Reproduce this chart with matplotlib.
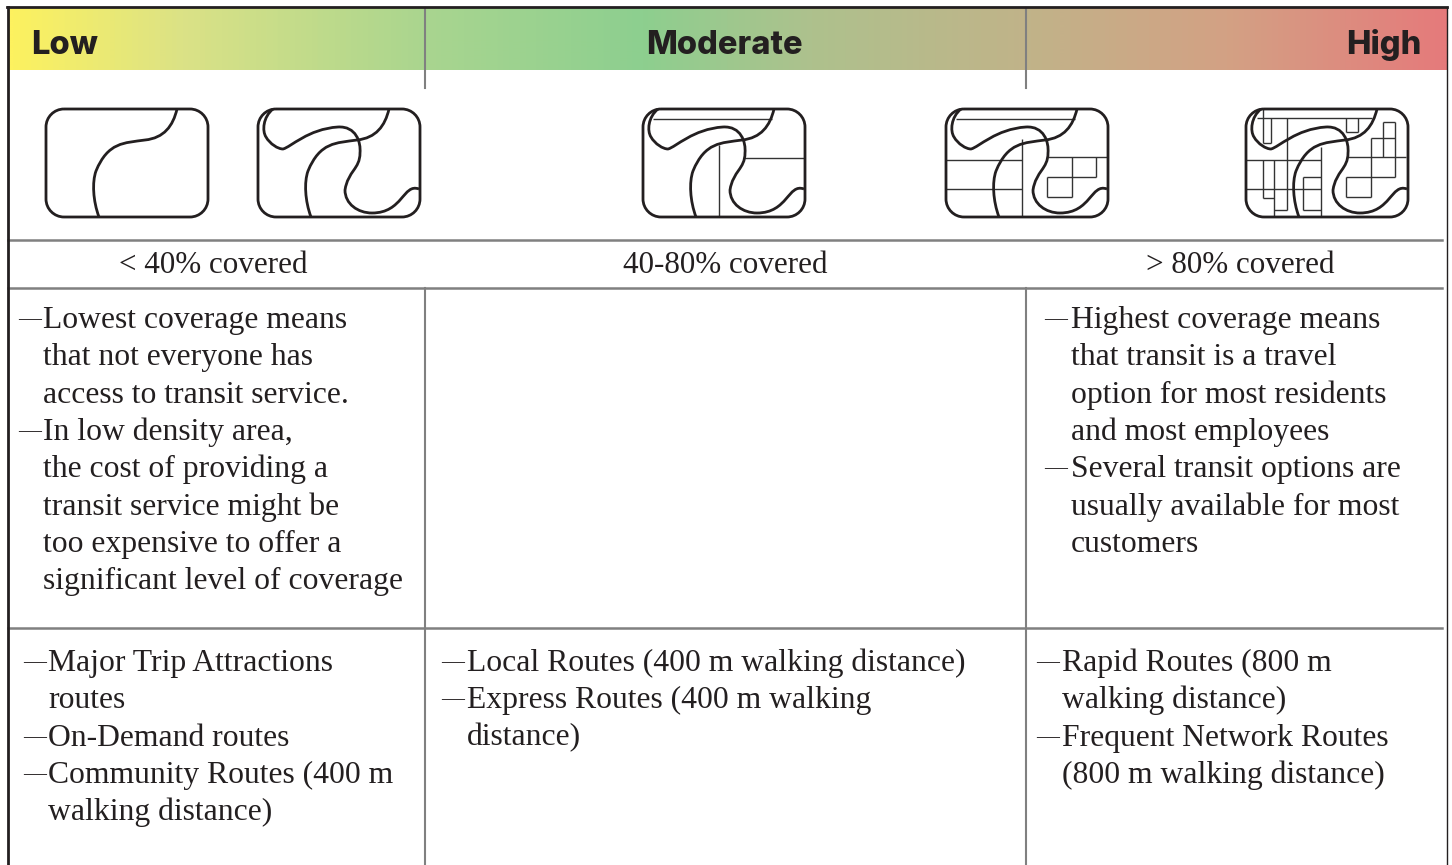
import numpy as np
import matplotlib
matplotlib.use("Agg")
import matplotlib.pyplot as plt
from matplotlib.colors import LinearSegmentedColormap
from matplotlib.patches import PathPatch
from matplotlib.path import Path

# Everything is laid out in image pixels
W, H = 1452, 865
SERIF = "Liberation Serif"
INK = "#231f20"
GREY = "#808080"
SIZE = 22.8

grad_stops = [(0.0, "#fdf25f"), (0.12, "#dbe286"), (0.29, "#a9d58f"), (0.44, "#8dcf8f"),
              (0.56, "#aec18d"), (0.71, "#c1b389"), (0.85, "#d3a184"), (1.0, "#e57a7b")]

levels = ["Low", "Moderate", "High"]
coverage = ["< 40% covered", "40-80% covered", "> 80% covered"]

# (text, starts with a dash)
low_notes = [("Lowest coverage means", True), ("that not everyone has", False),
             ("access to transit service.", False), ("In low density area,", True),
             ("the cost of providing a", False), ("transit service might be", False),
             ("too expensive to offer a", False), ("significant level of coverage", False)]
high_notes = [("Highest coverage means", True), ("that transit is a travel", False),
              ("option for most residents", False), ("and most employees", False),
              ("Several transit options are", True), ("usually available for most", False),
              ("customers", False)]
low_routes = [("Major Trip Attractions", True), ("routes", False), ("On-Demand routes", True),
              ("Community Routes (400 m", True), ("walking distance)", False)]
mod_routes = [("Local Routes (400 m walking distance)", True), ("Express Routes (400 m walking", True),
              ("distance)", False)]
high_routes = [("Rapid Routes (800 m", True), ("walking distance)", False),
               ("Frequent Network Routes", True), ("(800 m walking distance)", False)]

# Road curves, icon-relative pixels (start point, then bezier triples)
road_a = [(131, 0), (127, 17), (118, 29), (99, 31), (78, 34), (62, 33), (50, 62),
          (46, 73), (47, 92), (53, 108)]
road_b = [(15, 0), (5, 8), (4, 22), (8, 28), (12, 35), (20, 40), (25, 40),
          (33, 38), (50, 20), (80, 18), (98, 17), (103, 33), (102, 44),
          (102, 60), (90, 62), (87, 81), (87, 95), (100, 104), (114, 104),
          (145, 104), (145, 74), (161, 80)]

# Thin street segments per icon: (x0, y0, x1, y1)
streets_3 = [(10, 10, 129, 10), (76, 36, 76, 108), (101, 49, 162, 49)]
streets_4 = [(10, 10, 129, 10), (76, 30, 76, 108), (0, 51, 76, 51), (0, 80, 76, 80),
             (102, 48, 162, 48), (126, 48, 126, 88), (150, 48, 150, 68), (101, 68, 150, 68),
             (101, 68, 101, 88), (101, 88, 126, 88)]
streets_5 = [(11, 9, 126, 9), (17, 0, 17, 34), (25, 9, 25, 34), (17, 34, 25, 34), (41, 9, 41, 101),
             (100, 9, 100, 23), (112, 9, 112, 23), (100, 23, 112, 23),
             (137, 13, 149, 13), (137, 13, 137, 48), (149, 13, 149, 68), (125, 29, 149, 29),
             (125, 29, 125, 88), (101, 48, 160, 48), (100, 68, 149, 68), (100, 68, 100, 88),
             (100, 88, 125, 88), (0, 51, 75, 51), (0, 80, 75, 80), (75, 38, 75, 108),
             (17, 51, 17, 89), (17, 89, 28, 89), (28, 51, 28, 108), (28, 101, 41, 101),
             (57, 68, 57, 101), (57, 68, 75, 68), (57, 101, 75, 101)]

# icon left edge, second road?, streets
icons = [(46, False, []), (258, True, []), (643, True, streets_3),
         (946, True, streets_4), (1246, True, streets_5)]
ICON_TOP, ICON_W, ICON_H, ICON_R = 109, 162, 108, 18


def curve(points, x0, y0):
    pts = [(x + x0, y + y0) for x, y in points]
    return Path(pts, [Path.MOVETO] + [Path.CURVE4] * (len(pts) - 1))


def rounded_box(x0, y0, w, h, r):
    # straight sides joined by cubic quarter circles
    k = r * 0.448
    x1, y1 = x0 + w, y0 + h
    verts = [(x0 + r, y0), (x1 - r, y0), (x1 - k, y0), (x1, y0 + k), (x1, y0 + r),
             (x1, y1 - r), (x1, y1 - k), (x1 - k, y1), (x1 - r, y1),
             (x0 + r, y1), (x0 + k, y1), (x0, y1 - k), (x0, y1 - r),
             (x0, y0 + r), (x0, y0 + k), (x0 + k, y0), (x0 + r, y0)]
    codes = [Path.MOVETO, Path.LINETO, Path.CURVE4, Path.CURVE4, Path.CURVE4,
             Path.LINETO, Path.CURVE4, Path.CURVE4, Path.CURVE4,
             Path.LINETO, Path.CURVE4, Path.CURVE4, Path.CURVE4,
             Path.LINETO, Path.CURVE4, Path.CURVE4, Path.CURVE4]
    return Path(verts, codes)


def draw_icon(ax, x0, second, streets):
    for sx0, sy0, sx1, sy1 in streets:
        ax.plot([x0 + sx0, x0 + sx1], [ICON_TOP + sy0, ICON_TOP + sy1], color="#333333", lw=1.0,
                solid_capstyle="butt", zorder=3)
    ax.add_patch(PathPatch(curve(road_a, x0, ICON_TOP), fc="none", ec=INK, lw=2.0, zorder=4))
    if second:
        ax.add_patch(PathPatch(curve(road_b, x0, ICON_TOP), fc="none", ec=INK, lw=2.0, zorder=4))
    ax.add_patch(PathPatch(rounded_box(x0, ICON_TOP, ICON_W, ICON_H, ICON_R), fc="none", ec=INK,
                           lw=2.0, zorder=5))


def draw_notes(ax, notes, dash_x, text_x, first_base, step=37.3):
    for i, (line, dash) in enumerate(notes):
        y = first_base + i * step
        if dash:
            ax.text(dash_x, y - 3, "\u2014", family=SERIF, fontsize=16.5, color=INK, va="baseline")
        ax.text(text_x, y, line, family=SERIF, fontsize=SIZE, color=INK, va="baseline")


fig = plt.figure(figsize=(W / 100, H / 100), dpi=100)
ax = fig.add_axes([0, 0, 1, 1])
ax.set_xlim(0, W)
ax.set_ylim(H, 0)
ax.axis("off")

cmap = LinearSegmentedColormap.from_list("coverage", grad_stops)
ax.imshow(np.linspace(0, 1, 1440).reshape(1, -1), cmap=cmap, extent=(8, 1447, 70, 8), aspect="auto", zorder=1)
ax.set_xlim(0, W)
ax.set_ylim(H, 0)

# Table rules
for x, y0, y1 in [(425, 8, 88), (1026, 8, 88), (425, 288, H), (1026, 288, H)]:
    ax.plot([x, x], [y0, y1], color=GREY, lw=1.5, zorder=2)
for y in [240, 288, 628]:
    ax.plot([8, 1442], [y, y], color=GREY, lw=1.8, zorder=2)
ax.plot([8, 8], [7, H], color=INK, lw=2, zorder=6)
ax.plot([7, 1447], [7, 7], color=INK, lw=2, zorder=6)
ax.plot([1447, 1447], [7, H], color=INK, lw=1, zorder=6)

# Header
head = dict(family="Inter", fontweight="heavy", fontsize=23.5, color=INK, va="baseline", zorder=3)
ax.text(31, 54, levels[0], ha="left", **head)
ax.text(724, 54, levels[1], ha="center", **head)
ax.text(1422, 54, levels[2], ha="right", **head)

for x0, second, streets in icons:
    draw_icon(ax, x0, second, streets)

for x, label in zip([213, 725, 1240], coverage):
    ax.text(x, 273, label, family=SERIF, fontsize=22.4, color=INK, ha="center", va="baseline")

draw_notes(ax, low_notes, 18, 43, 328)
draw_notes(ax, high_notes, 1044, 1071, 328)
draw_notes(ax, low_routes, 23, 48, 671)
draw_notes(ax, mod_routes, 441, 467, 671)
draw_notes(ax, high_routes, 1036, 1062, 671)

fig.savefig("out.png", dpi=100)
